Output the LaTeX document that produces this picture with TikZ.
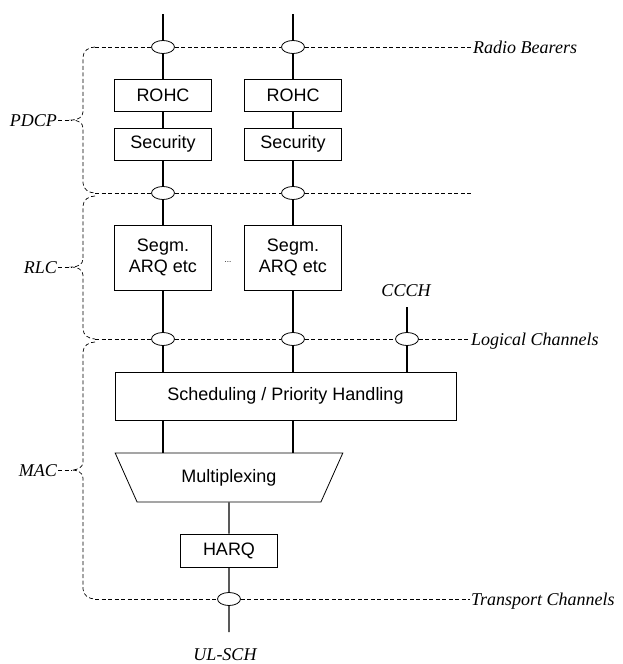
\documentclass[tikz,border=0pt]{standalone}
\usepackage{fontspec}
\setmainfont{Liberation Serif}
\newfontfamily\arialfont{Liberation Sans}
\usetikzlibrary{shapes, positioning}

\tikzset{
    block/.style={draw, line width=0.8pt, align=center, inner sep=0pt,
        font=\arialfont\fontsize{18}{21.6}\selectfont},
    bearer/.style={draw, ellipse, fill=white, line width=0.8pt,
        minimum width=23pt, minimum height=13pt, inner sep=0pt},
    layer/.style={inner sep=1pt, font=\itshape\fontsize{18}{21.6}\selectfont},
    dline/.style={dashed, dash pattern=on 4pt off 2.5pt, line width=0.7pt},
    wire/.style={line width=1.2pt}
}

\begin{document}
\begin{tikzpicture}[x=1pt, y=-1pt]
            \useasboundingbox (0,0) rectangle (623,664);

            % the two radio bearer columns
            \foreach \i/\x in {1/163, 2/293}{
                \coordinate (top\i) at (\x,14);
                \node[bearer] (rb\i) at (\x,47) {};
                \node[block, minimum width=97pt, minimum height=32pt] (rohc\i) at (\x,95) {ROHC};
                \node[block, minimum width=97pt, minimum height=32pt] (sec\i) at (\x,144) {Security};
                \node[bearer] (pd\i) at (\x,193) {};
                \node[block, minimum width=97pt, minimum height=65pt] (segm\i) at (\x,257.5) {Segm.\\ARQ etc};
                \node[bearer] (lc\i) at (\x,339) {};
            }
            \node[font=\arialfont\fontsize{8}{8}\selectfont] (dots) at (228,262) {...};

            % CCCH
            \node[layer] (ccch) at (406,291) {CCCH};
            \coordinate (ccchtop) at (407,307);
            \node[bearer] (lc3) at (407,339) {};

            % MAC
            \node[block, minimum width=341pt, minimum height=48pt] (sched) at (285.5,396) {Scheduling / Priority Handling};
            \node[block, trapezium, shape border rotate=180, trapezium angle=56, trapezium stretches=true,
                minimum width=228pt, minimum height=49pt] (mux) at (229,477.5) {Multiplexing};
            \node[block, minimum width=97pt, minimum height=33pt] (harq) at (229,550.5) {HARQ};
            \node[bearer] (tc) at (229,599) {};
            \coordinate (ulend) at (229,632);
            \node[layer, inner sep=0pt, anchor=base] (ulsch) at (225,660) {UL-SCH};

            % channel names
            \node[layer, anchor=base west] (rbtxt) at (472,53) {Radio Bearers};
            \coordinate (pdend) at (472,193);
            \node[layer, anchor=base west] (lctxt) at (470,345) {Logical Channels};
            \node[layer, anchor=base west] (tctxt) at (470,605) {Transport Channels};

            % layer braces
            \foreach \name/\txt/\a/\m/\b in {pdcp/PDCP/47/120/193, rlc/RLC/196/267/339, mac/MAC/342/470/599}{
                \node[layer, anchor=base east] (\name) at (58,\m+6) {\txt};
                \coordinate (\name tip) at (72,\m);
                \coordinate (\name top) at (95,\a);
                \coordinate (\name bot) at (95,\b);
                \draw[dline] (\name top) to[out=180, in=90] (83,\a+10) -- (83,\m-8)
                    to[out=-90, in=0] (\name tip) to[out=0, in=90] (83,\m+8) -- (83,\b-10)
                    to[out=-90, in=180] (\name bot);
                \draw[dline] (\name.east |- \name tip) -- (\name tip);
            }

            % dashed channel lines
            \draw[dline] (pdcptop) -- (rb1) -- (rb2) -- (rb2 -| rbtxt.west);
            \draw[dline] (pdcpbot) -- (pd1) -- (pd2) -- (pdend);
            \draw[dline] (rlcbot) -- (lc1) -- (lc2) -- (lc3) -- (lc3 -| lctxt.west);
            \draw[dline] (macbot) -- (tc) -- (tc -| tctxt.west);

            % data path
            \draw[wire] (top1) -- (rb1) -- (rohc1) -- (sec1) -- (pd1) -- (segm1) -- (lc1) -- (lc1 |- sched.north);
            \draw[wire] (top2) -- (rb2) -- (rohc2) -- (sec2) -- (pd2) -- (segm2) -- (lc2) -- (lc2 |- sched.north);
            \draw[wire] (ccchtop) -- (lc3) -- (lc3 |- sched.north);
            \draw[wire] (sched.south -| lc1) -- (mux.north -| lc1);
            \draw[wire] (sched.south -| lc2) -- (mux.north -| lc2);
            \draw[wire] (mux) -- (harq) -- (tc) -- (ulend);

\end{tikzpicture}
\end{document}
